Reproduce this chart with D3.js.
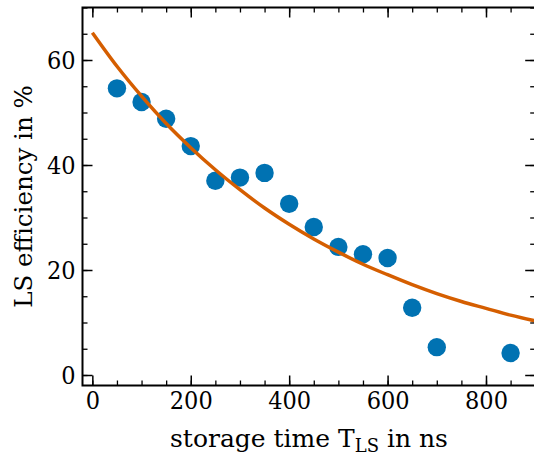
<!DOCTYPE html>
<html><head><meta charset="utf-8">
<script src="https://cdn.jsdelivr.net/npm/d3@7"></script>
<style>
html,body{margin:0;padding:0;background:#fff;}
svg{display:block;}
text{font-family:"DejaVu Serif",serif;fill:#000;}
</style></head>
<body>
<svg id="c" width="534" height="456"></svg>
<script>
// measured data
const storageTime = [50,100,150,200,250,300,350,400,450,500,550,600,650,700,850];
const efficiency  = [54.6,52.0,48.8,43.6,37.0,37.6,38.5,32.6,28.2,24.4,23.0,22.3,12.8,5.3,4.2];
// fit curve
const fitTime = [0,50,100,150,200,250,300,350,400,450,500,550,600,650,700,750,800,850,900];
const fitEff  = [65.2,58.8,53.1,47.9,43.3,39.1,35.3,31.8,28.7,25.9,23.4,21.1,19.1,17.2,15.5,14.0,12.7,11.4,10.3];
const xMajor = [0,200,400,600,800];
const yMajor = [0,20,40,60];
const xMinor = d3.range(0,901,50);
const yMinor = d3.range(0,71,5);

const svg = d3.select("#c");
const x = d3.scaleLinear().domain([-20,900]).range([82.5,535.2]);
const y = d3.scaleLinear().domain([-2,70]).range([385.5,7.5]);
const L=82.5,R=535.2,T=7.5,B=385.5;

const g = svg.append("g");
const line = d3.line().x((d,i)=>x(fitTime[i])).y((d,i)=>y(fitEff[i])).curve(d3.curveMonotoneX);
g.selectAll("circle").data(storageTime).enter().append("circle")
 .attr("cx",(d)=>x(d)).attr("cy",(d,i)=>y(efficiency[i])).attr("r",9.2).attr("fill","#0072b2");
g.append("path").datum(fitEff).attr("d",line).attr("fill","none").attr("stroke","#d55e00").attr("stroke-width",3.5);

function axis(gen, transform, major, minor, labels){
  const a = svg.append("g").attr("transform",transform);
  a.call(gen.tickValues(minor).tickSize(5).tickFormat(""));
  a.select(".domain").remove();
  a.selectAll("line").attr("stroke","#000").attr("stroke-width",1.3);
  const b = svg.append("g").attr("transform",transform);
  b.call(gen.tickValues(major).tickSize(10).tickFormat(labels?d3.format("d"):""));
  b.select(".domain").remove();
  b.selectAll("line").attr("stroke","#000").attr("stroke-width",1.5);
  b.selectAll("text").attr("font-size",25).style("font-family","'DejaVu Serif Condensed','DejaVu Serif',serif");
  return b;
}
const xb = axis(d3.axisTop(x), `translate(0,${B})`, xMajor, xMinor, true);
xb.selectAll("text").attr("dy","0.71em").attr("y",6);
axis(d3.axisBottom(x), `translate(0,${T})`, xMajor, xMinor, false);
const yb = axis(d3.axisRight(y), `translate(${L},0)`, yMajor, yMinor, true);
yb.selectAll("text").attr("text-anchor","end").attr("x",-7);
axis(d3.axisLeft(y), `translate(${R},0)`, yMajor, yMinor, false);

svg.append("rect").attr("x",L).attr("y",T).attr("width",R-L).attr("height",B-T)
 .attr("fill","none").attr("stroke","#000").attr("stroke-width",2);

const xl = svg.append("text").attr("x",170).attr("y",447).attr("text-anchor","start").attr("font-size",25);
xl.append("tspan").text("storage time T");
xl.append("tspan").text("LS").attr("font-size",18).attr("dy",5);
xl.append("tspan").text(" in ns").attr("dy",-5);
svg.append("text").attr("transform",`translate(32,${(T+B)/2}) rotate(-90)`).attr("text-anchor","middle").attr("font-size",24.5).text("LS efficiency in %");
</script>
</body></html>
